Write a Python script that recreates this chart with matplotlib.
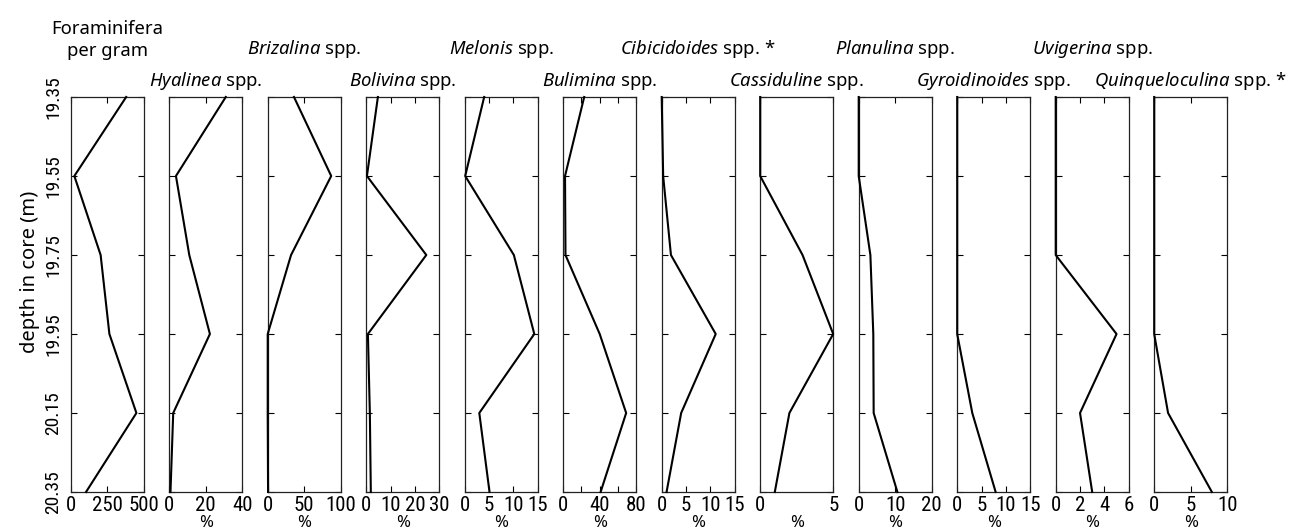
import matplotlib
matplotlib.use("Agg")
import matplotlib.pyplot as plt
from matplotlib import font_manager

# depth of each sample (m)
depth = [19.35, 19.55, 19.75, 19.95, 20.15, 20.35]

# values read per panel
forams_per_gram = [380, 25, 205, 265, 450, 105]
hyalinea = [31, 3.7, 11, 22.3, 2.2, 0.7]
brizalina = [36, 87, 32, 0, 0, 0.5]
bolivina = [4.8, 0.3, 24.7, 0.7, 1.5, 1.9]
melonis = [4.0, 0.1, 10.1, 14.3, 3.0, 5.1]
bulimina = [23, 2, 2.5, 40, 69, 41]
cibicidoides = [0, 0.3, 1.9, 11.1, 4.0, 1.0]
cassiduline = [0, 0, 2.9, 5.0, 2.0, 1.0]
planulina = [0, 0, 3.2, 4.0, 4.1, 10.6]
gyroidinoides = [0, 0, 0, 0, 3.1, 7.9]
uvigerina = [0, 0, 0, 5.0, 2.0, 3.0]
quinqueloculina = [0, 0, 0, 0, 1.9, 7.9]

titles = [
    "Foraminifera\nper gram",
    r"$\mathit{Hyalinea}$ spp.",
    r"$\mathit{Brizalina}$ spp.",
    r"$\mathit{Bolivina}$ spp.",
    r"$\mathit{Melonis}$ spp.",
    r"$\mathit{Bulimina}$ spp.",
    r"$\mathit{Cibicidoides}$ spp. *",
    r"$\mathit{Cassiduline}$ spp.",
    r"$\mathit{Planulina}$ spp.",
    r"$\mathit{Gyroidinoides}$ spp.",
    r"$\mathit{Uvigerina}$ spp.",
    r"$\mathit{Quinqueloculina}$ spp. *",
]
series = [forams_per_gram, hyalinea, brizalina, bolivina, melonis, bulimina,
          cibicidoides, cassiduline, planulina, gyroidinoides, uvigerina,
          quinqueloculina]
xmax = [500, 40, 100, 30, 15, 80, 15, 5, 20, 15, 6, 10]
xticks = [
    [0, 250, 500], [0, 20, 40], [0, 50, 100], [0, 10, 20, 30], [0, 5, 10, 15],
    [0, 20, 40, 60, 80], [0, 5, 10, 15], [0, 5], [0, 10, 20], [0, 5, 10, 15],
    [0, 2, 4, 6], [0, 5, 10],
]
xticklabels = [[str(t) for t in tk] for tk in xticks]
xticklabels[5] = ["0", "", "40", "", "80"]
depth_ticks = [19.35, 19.55, 19.75, 19.95, 20.15, 20.35]

installed = {f.name for f in font_manager.fontManager.ttflist}


def pick(*names):
    for n in names:
        if n in installed:
            return n
    return "DejaVu Sans"


text_font = pick("Noto Sans", "Open Sans", "Lato")
tick_font = pick("Liberation Sans Narrow", "Roboto Condensed", "DejaVu Sans")
narrow = tick_font != "DejaVu Sans"

plt.rcParams["font.family"] = [text_font, "DejaVu Sans"]
plt.rcParams["mathtext.fontset"] = "custom"
plt.rcParams["mathtext.rm"] = text_font
plt.rcParams["mathtext.it"] = text_font + ":italic"

W, H = 1292, 531
fig = plt.figure(figsize=(W / 100, H / 100), dpi=100)

for i, vals in enumerate(series):
    left = 70.7 + i * 98.5
    ax = fig.add_axes([left / W, 39 / H, 73 / W, 395 / H])
    ax.plot(vals, depth, color="black", lw=1.5, clip_on=False, zorder=3)
    ax.set_xlim(0, xmax[i])
    ax.set_ylim(20.35, 19.35)
    ax.set_xticks(xticks[i])
    ax.set_xticklabels(xticklabels[i])
    ax.set_yticks(depth_ticks)
    ax.tick_params(direction="in", length=4, width=0.8, top=True, right=True,
                   labelfontfamily=tick_font)
    ax.tick_params(axis="x", labelsize=15 if narrow else 12, pad=3)
    ax.tick_params(axis="y", labelsize=14 if narrow else 11)
    if i == 0:
        ax.set_yticklabels([f"{d:.2f}" for d in depth_ticks], rotation=90,
                           va="center")
        ax.tick_params(axis="y", pad=6)
    else:
        ax.set_yticklabels([])
        ax.set_xlabel("%", fontsize=12, labelpad=0)
    for sp in ax.spines.values():
        sp.set_linewidth(0.9)
        sp.set_color("#222222")

    off = 37 if i % 2 == 0 else 5
    ax.annotate(titles[i], xy=(0.5, 1), xycoords="axes fraction",
                xytext=(0, off), textcoords="offset pixels",
                ha="center", va="bottom", fontsize=13.3, linespacing=1.25,
                multialignment="center")

fig.text(30 / W, 1 - 272 / H, "depth in core (m)", rotation=90,
         ha="center", va="center", fontsize=14.5)

fig.savefig("out.png", dpi=100)
